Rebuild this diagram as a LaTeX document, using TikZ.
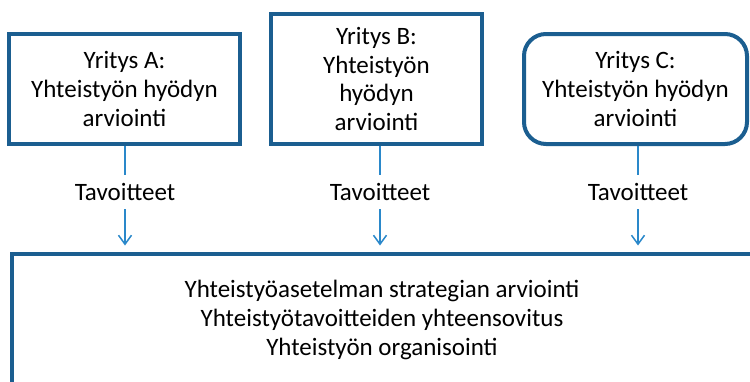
\documentclass[tikz,border=0pt]{standalone}
\usepackage{fontspec}
\setmainfont{Carlito}
\usetikzlibrary{arrows.meta}
\definecolor{boxblue}{RGB}{27,94,144}
\definecolor{arrblue}{RGB}{42,136,202}
\begin{document}
\begin{tikzpicture}[x=1pt,y=-1pt,
  every node/.style={font=\fontsize{25}{28.8}\selectfont, text=black, align=center},
  firm/.style={draw=boxblue, line width=4pt, inner sep=0pt},
  lbl/.style={minimum height=34pt, inner sep=0pt},
  conn/.style={draw=arrblue, line width=1.5pt},
  arr/.style={conn, -{Straight Barb[length=9pt,width=13pt,line width=1.5pt]}, shorten >=6pt}]
\useasboundingbox (0,0) rectangle (750,381);
\clip (0,0) rectangle (750,381);
\node[firm, minimum width=231pt, minimum height=110pt] (A) at (124.5,89) {Yritys A:\\Yhteistyön hyödyn\\arviointi};
\node[firm, minimum width=211pt, minimum height=130pt] (B) at (376.5,79) {Yritys B:\\Yhteistyön\\hyödyn\\arviointi};
\node[firm, rounded corners=22pt, minimum width=223pt, minimum height=110pt] (C) at (635.5,89) {Yritys C:\\Yhteistyön hyödyn\\arviointi};
\node[firm, minimum width=800pt, minimum height=200pt, anchor=north west] (D) at (9.5,251.5) {};
\node (Dt) at (382,320) {Yhteistyöasetelman strategian arviointi\\Yhteistyötavoitteiden yhteensovitus\\Yhteistyön organisointi};
\node[lbl] (tA) at (125,192) {Tavoitteet};
\node[lbl] (tB) at (380,192) {Tavoitteet};
\node[lbl] (tC) at (638,192) {Tavoitteet};
\draw[conn] (tA.north |- A.south) -- (tA.north);
\draw[conn] (tB.north |- B.south) -- (tB.north);
\draw[conn] (tC.north |- C.south) -- (tC.north);
\draw[arr] (tA.south) -- (tA.south |- D.north);
\draw[arr] (tB.south) -- (tB.south |- D.north);
\draw[arr] (tC.south) -- (tC.south |- D.north);
\end{tikzpicture}
\end{document}
